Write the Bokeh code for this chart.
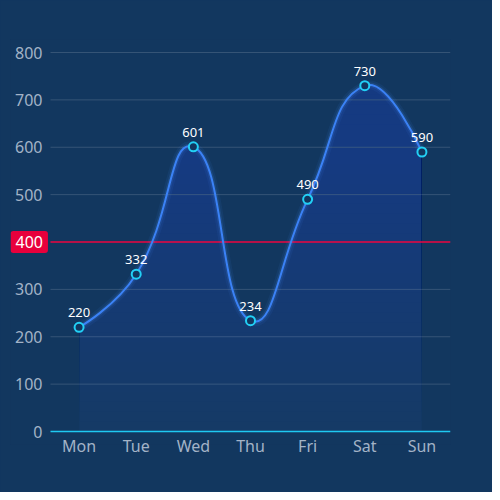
import numpy as np
from bokeh.plotting import figure
from bokeh.models import Range1d, FixedTicker, Label
from bokeh.embed import file_html
from bokeh.resources import INLINE

# chart data
days = ["Mon", "Tue", "Wed", "Thu", "Fri", "Sat", "Sun"]
visits = [220, 332, 601, 234, 490, 730, 590]
y_ticks = [0, 100, 200, 300, 400, 500, 600, 700, 800]
threshold = 400

BG = "#12375f"
LINE = "#3b82f6"
DOT = "#22d0f5"
TICK = "#a3b3c7"
RED = "#e8003c"
FONT = "Noto Sans"

W, H = 492, 492
PAD = 13                          # px of room above 800 and below 0 for tick text
LEFT, RIGHT, TOP, BOTTOM = 10, 42, 52 - PAD, 61 - PAD
px_x = 400 / 7.0                  # px per category
px_y = 379 / 800.0                # px per unit
XL = 40 / px_x                    # room left of the grid for the "400" badge
YP = PAD / px_y


def smooth_controls(xs, ys, smooth=0.5):
    # echarts-style bezier smoothing, computed in pixel space
    px = [x * px_x for x in xs]
    py = [y * px_y for y in ys]
    n = len(px)
    cp_out, cp_in = [], []
    for i in range(n):
        if i == 0 or i == n - 1:
            cp_in.append((px[i], py[i]))
            cp_out.append((px[i], py[i]))
            continue
        vx = px[i + 1] - px[i - 1]
        vy = py[i + 1] - py[i - 1]
        l0 = np.hypot(px[i] - px[i - 1], py[i] - py[i - 1])
        l1 = np.hypot(px[i + 1] - px[i], py[i + 1] - py[i])
        r = l1 / (l0 + l1)
        cp_in.append((px[i] - vx * smooth * (1 - r), py[i] - vy * smooth * (1 - r)))
        cp_out.append((px[i] + vx * smooth * r, py[i] + vy * smooth * r))
    segs = []
    for i in range(n - 1):
        c0 = cp_out[i]
        c1 = cp_in[i + 1]
        segs.append((xs[i], ys[i], xs[i + 1], ys[i + 1],
                     c0[0] / px_x, c0[1] / px_y, c1[0] / px_x, c1[1] / px_y))
    return segs


xs = list(range(len(days)))
segs = smooth_controls(xs, visits)
x0, y0, x1, y1, cx0, cy0, cx1, cy1 = [list(c) for c in zip(*segs)]

# sample the bezier for the filled area
t = np.linspace(0, 1, 30)
ax, ay = [], []
for s in segs:
    a, b, c, d, e, f, g, h = s
    bx = (1 - t) ** 3 * a + 3 * (1 - t) ** 2 * t * e + 3 * (1 - t) * t ** 2 * g + t ** 3 * c
    by = (1 - t) ** 3 * b + 3 * (1 - t) ** 2 * t * f + 3 * (1 - t) * t ** 2 * h + t ** 3 * d
    ax.extend(bx)
    ay.extend(by)
ax = np.array(ax)
ay = np.array(ay)

gx0, gx1 = -0.5, len(days) - 0.5

p = figure(width=W, height=H, output_backend="svg", toolbar_location=None,
           x_range=Range1d(gx0 - XL, gx1), y_range=Range1d(-YP, 800 + YP),
           min_border_left=LEFT, min_border_right=RIGHT,
           min_border_top=TOP, min_border_bottom=BOTTOM)
p.styles = {"background-color": BG}
p.background_fill_color = BG
p.border_fill_color = BG
p.outline_line_color = None
p.grid.visible = False
p.yaxis.visible = False

# grid lines and y tick labels
gt = y_ticks[1:]
p.segment(x0=[gx0] * len(gt), x1=[gx1] * len(gt), y0=gt, y1=gt,
          line_color="white", line_alpha=0.15, line_width=1)
p.text([gx0] * len(y_ticks), y_ticks, text=[str(v) for v in y_ticks],
       x_offset=-8, text_align="right", text_baseline="middle",
       text_color=TICK, text_font_size="16px", text_font={"value": FONT})

# gradient area: faint base plus stacked bands, stronger towards the top
fill = "#5ea4f8"
p.varea(x=ax, y1=np.zeros_like(ay), y2=ay, fill_color=fill, fill_alpha=0.04)
levels = np.linspace(0, max(ay), 36)
for lv in levels:
    p.varea(x=ax, y1=np.full_like(ay, lv), y2=np.maximum(ay, lv),
            fill_color=fill, fill_alpha=0.0085)

# x axis line and threshold line
p.segment(x0=[gx0], x1=[gx1], y0=[0], y1=[0], line_color="#1fc9f2", line_width=1.5)
p.segment(x0=[gx0], x1=[gx1], y0=[threshold], y1=[threshold],
          line_color=RED, line_width=1.5)

# glow + line
p.bezier(x0=x0, y0=y0, x1=x1, y1=y1, cx0=cx0, cy0=cy0, cx1=cx1, cy1=cy1,
         line_color="#4d94ff", line_width=9, line_alpha=0.07)
p.bezier(x0=x0, y0=y0, x1=x1, y1=y1, cx0=cx0, cy0=cy0, cx1=cx1, cy1=cy1,
         line_color="#4d94ff", line_width=5, line_alpha=0.14)
p.bezier(x0=x0, y0=y0, x1=x1, y1=y1, cx0=cx0, cy0=cy0, cx1=cx1, cy1=cy1,
         line_color=LINE, line_width=2)

p.scatter(xs, visits, size=9, fill_color=BG, line_color=DOT, line_width=2)
p.text(xs, visits, text=[str(v) for v in visits], y_offset=-10,
       text_align="center", text_baseline="bottom", text_color="white",
       text_font_size="13px", text_font={"value": FONT})

p.add_layout(Label(x=0, y=threshold, x_units="screen", text=str(threshold),
                   text_color="white", text_font=FONT, text_font_size="16px",
                   text_baseline="middle", background_fill_color=RED,
                   border_radius=3, padding=5))

p.xaxis.ticker = FixedTicker(ticks=xs)
p.xaxis.major_label_overrides = {i: d for i, d in enumerate(days)}
p.xaxis.axis_line_color = None
p.xaxis.major_tick_line_color = None
p.xaxis.major_tick_out = 0
p.xaxis.minor_tick_line_color = None
p.xaxis.major_label_text_color = TICK
p.xaxis.major_label_text_font = FONT
p.xaxis.major_label_text_font_size = "16px"
p.xaxis.major_label_standoff = 3 - PAD

open("out.html", "w").write(file_html(p, INLINE))
